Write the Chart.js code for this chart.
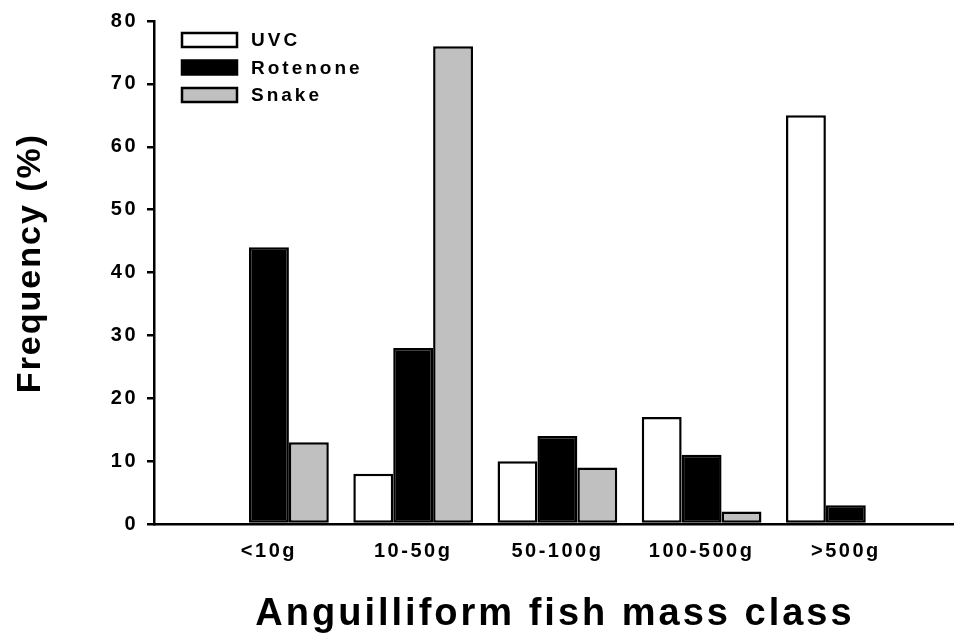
<!DOCTYPE html>
<html>
<head>
<meta charset="utf-8">
<script src="https://cdn.jsdelivr.net/npm/chart.js@4.4.1/dist/chart.umd.min.js"></script>
<style>
  html, body { margin: 0; padding: 0; background: #fff; }
  #wrap { width: 954px; height: 643px; }
</style>
</head>
<body>
<div id="wrap"><canvas id="myChart"></canvas></div>
<script>
const massClasses = ["<10g", "10-50g", "50-100g", "100-500g", ">500g"];
const uvc = [0, 8, 10, 17, 65];
const rotenone = [44, 28, 14, 11, 3];
const snake = [13, 76, 9, 2, 0];
const yTicks = [0, 10, 20, 30, 40, 50, 60, 70, 80];

const FONT = "'Liberation Sans', Arial, sans-serif";

function toPoints(values) {
  return values.map((v, i) => ({ x: i + 1, y: v }));
}

const data = {
  datasets: [
    { label: "UVC", data: toPoints(uvc), backgroundColor: "#ffffff" },
    { label: "Rotenone", data: toPoints(rotenone), backgroundColor: "#000000" },
    { label: "Snake", data: toPoints(snake), backgroundColor: "#c0c0c0" },
  ],
};

// legend inside the plot + axis titles, drawn with their own letter spacing
const extras = {
  id: "extras",
  beforeDraw(chart) {
    chart.ctx.letterSpacing = "2.5px";
  },
  afterDraw(chart) {
    const ctx = chart.ctx;
    const area = chart.chartArea;
    ctx.save();
    ctx.fillStyle = "#000";

    // legend
    ctx.font = "bold 19px " + FONT;
    ctx.letterSpacing = "3px";
    ctx.textBaseline = "middle";
    ctx.textAlign = "left";
    chart.data.datasets.forEach((ds, i) => {
      const y = 40 + i * 27.5;
      ctx.fillStyle = ds.backgroundColor;
      ctx.fillRect(182, y - 7, 55, 14);
      ctx.lineWidth = 2.5;
      ctx.strokeStyle = "#000";
      ctx.strokeRect(182, y - 7, 55, 14);
      ctx.fillStyle = "#000";
      ctx.fillText(ds.label, 251, y + 1);
    });

    // x title
    ctx.font = "bold 38px " + FONT;
    ctx.letterSpacing = "3px";
    ctx.textAlign = "center";
    ctx.fillText("Anguilliform fish mass class", (area.left + area.right) / 2 + 1, 615);

    // y title
    ctx.font = "bold 34px " + FONT;
    ctx.letterSpacing = "2px";
    ctx.translate(31, 263);
    ctx.rotate(-Math.PI / 2);
    ctx.fillText("Frequency (%)", 0, 0);
    ctx.restore();
  },
};

const config = {
  type: "bar",
  data: data,
  options: {
    responsive: true,
    maintainAspectRatio: false,
    animation: false,
    layout: { padding: { top: 17, right: 0, left: 0, bottom: 0 } },
    datasets: {
      bar: {
        borderColor: "#000",
        borderWidth: 2.5,
        borderSkipped: false,
        categoryPercentage: 0.83,
        barPercentage: 1.0,
      },
    },
    plugins: {
      legend: { display: false },
      tooltip: { enabled: false },
    },
    scales: {
      x: {
        type: "linear",
        offset: false,
        min: 0.203,
        max: 5.75,
        grid: { display: false, drawTicks: false },
        border: { display: true, color: "#000", width: 2.5 },
        afterBuildTicks(scale) {
          scale.ticks = massClasses.map((c, i) => ({ value: i + 1 }));
        },
        afterFit(scale) {
          scale.height = 119;
        },
        ticks: {
          color: "#000",
          font: { family: FONT, size: 20, weight: "bold" },
          padding: 15,
          maxRotation: 0,
          autoSkip: false,
          callback: (v) => massClasses[v - 1],
        },
      },
      y: {
        min: 0,
        max: 80,
        afterBuildTicks(scale) {
          scale.ticks = yTicks.map((v) => ({ value: v }));
        },
        afterFit(scale) {
          scale.width = 154;
        },
        grid: {
          drawOnChartArea: false,
          drawTicks: true,
          tickLength: 7,
          tickColor: "#000",
          lineWidth: 2.5,
        },
        border: { display: true, color: "#000", width: 2.5 },
        ticks: {
          color: "#000",
          font: { family: FONT, size: 20, weight: "bold" },
          padding: 9,
        },
      },
    },
  },
  plugins: [extras],
};

const myChart = new Chart(document.getElementById("myChart"), config);
</script>
</body>
</html>
